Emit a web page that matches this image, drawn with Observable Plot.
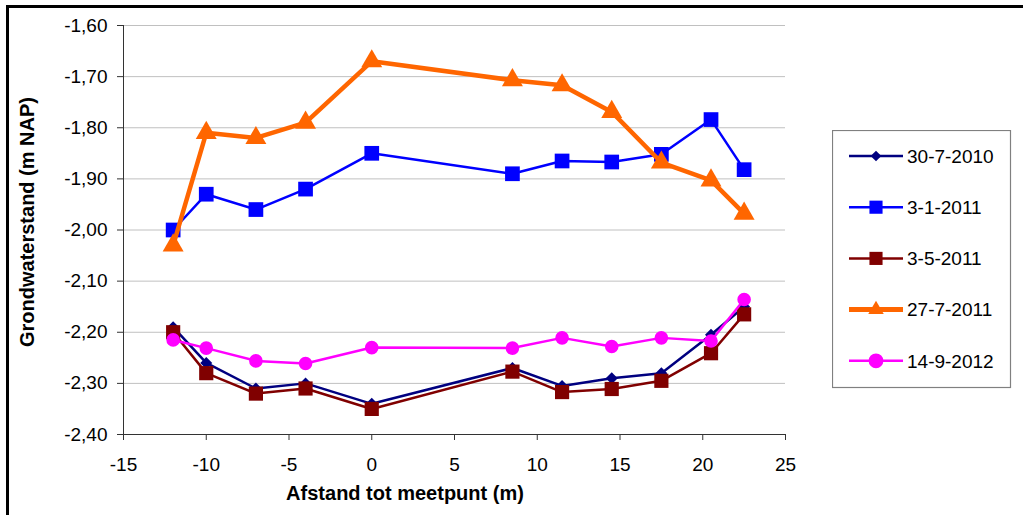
<!DOCTYPE html>
<html>
<head>
<meta charset="utf-8">
<script src="https://cdn.jsdelivr.net/npm/d3@7"></script>
<script src="https://cdn.jsdelivr.net/npm/@observablehq/plot@0.6"></script>
<style>
  body { margin: 0; background: #fff; }
  #chart { position: relative; width: 1023px; height: 515px; overflow: hidden;
           font-family: "Liberation Sans", Arial, sans-serif; }
  #chart > svg.plot { position: absolute; left: 0; top: 0; }
  .frame { position: absolute; left: 6px; top: 5px; width: 1100px; height: 600px;
           border-top: 3px solid #000; border-left: 3px solid #000; }
  .xtitle { position: absolute; left: 405px; top: 483px; transform: translateX(-50%);
            font: bold 20px/20px "Liberation Sans", Arial, sans-serif; white-space: nowrap; color: #000; }
  .ytitle { position: absolute; left: 27px; top: 222px; width: 320px; height: 20px;
            margin-left: -160px; margin-top: -10px; text-align: center; transform: rotate(-90deg);
            font: bold 20px/20px "Liberation Sans", Arial, sans-serif; white-space: nowrap; color: #000; }
  #legend { position: absolute; left: 832px; top: 130px; }
</style>
</head>
<body>
<div id="chart">
  <div class="frame"></div>
</div>
<script>
// Afstand tot meetpunt (m)
const afstand = [-12, -10, -7, -4, 0, 8.5, 11.5, 14.5, 17.5, 20.5, 22.5];

// Meetdata
const datums = ["30-7-2010", "3-1-2011", "3-5-2011", "27-7-2011", "14-9-2012"];
const stand_30_7_2010 = [-2.19, -2.26, -2.31, -2.30, -2.34, -2.27, -2.305, -2.29, -2.28, -2.205, -2.15];
const stand_3_1_2011  = [-2.00, -1.93, -1.96, -1.92, -1.85, -1.89, -1.865, -1.867, -1.852, -1.784, -1.882];
const stand_3_5_2011  = [-2.20, -2.28, -2.32, -2.31, -2.35, -2.277, -2.317, -2.311, -2.295, -2.241, -2.165];
const stand_27_7_2011 = [-2.03, -1.81, -1.82, -1.79, -1.67, -1.707, -1.717, -1.769, -1.868, -1.903, -1.968];
const stand_14_9_2012 = [-2.215, -2.231, -2.256, -2.261, -2.23, -2.231, -2.211, -2.228, -2.211, -2.217, -2.136];
const standen = [stand_30_7_2010, stand_3_1_2011, stand_3_5_2011, stand_27_7_2011, stand_14_9_2012];

// Astikken
const yTicks = [-1.6, -1.7, -1.8, -1.9, -2.0, -2.1, -2.2, -2.3, -2.4];
const xTicks = [-15, -10, -5, 0, 5, 10, 15, 20, 25];

// Opmaak per reeks
const stijl = {
  "30-7-2010": {color: "#000080", symbol: "diamond2", r: 5.4, width: 2.5},
  "3-1-2011":  {color: "#0000FF", symbol: "square",   r: 8.3, width: 2.5},
  "3-5-2011":  {color: "#800000", symbol: "square",   r: 8.0, width: 2.5},
  "27-7-2011": {color: "#FF6600", symbol: "triangle2", r: 10, width: 4.5},
  "14-9-2012": {color: "#FF00FF", symbol: "circle",   r: 6.8, width: 2.5}
};

const rows = datums.flatMap((d, i) => afstand.map((x, j) => ({datum: d, afstand: x, stand: standen[i][j]})));

const fmtY = d => d.toFixed(2).replace(".", ",");

const seriesMarks = datums.flatMap(d => {
  const s = stijl[d];
  const data = rows.filter(r => r.datum === d);
  return [
    Plot.line(data, {x: "afstand", y: "stand", stroke: s.color, strokeWidth: s.width, strokeLinejoin: "miter"}),
    Plot.dot(data, {x: "afstand", y: "stand", symbol: () => s.symbol, r: s.r, fill: s.color, stroke: "none"})
  ];
});

const chart = Plot.plot({
  width: 1023,
  height: 515,
  marginLeft: 123,
  marginRight: 238,
  marginTop: 25,
  marginBottom: 81,
  style: {fontFamily: "'Liberation Sans', Arial, sans-serif", fontSize: "19px", color: "#000", background: "transparent", overflow: "visible"},
  x: {domain: [-15, 25]},
  y: {domain: [-2.4, -1.6]},
  symbol: {type: "identity"},
  marks: [
    Plot.gridY(yTicks.slice(0, -1), {stroke: "#c0c0c0", strokeOpacity: 1, strokeWidth: 1}),
    Plot.axisY({ticks: yTicks, tickFormat: fmtY, tickSize: 6, tickPadding: 10, label: null, fontSize: 19, stroke: "#333"}),
    Plot.axisX({ticks: xTicks, tickFormat: d => String(d), tickSize: 6, tickPadding: 17, label: null, fontSize: 19, stroke: "#333"}),
    Plot.ruleX([-15], {stroke: "#333", strokeWidth: 1}),
    Plot.ruleY([-2.4], {stroke: "#333", strokeWidth: 1}),
    ...seriesMarks
  ]
});
chart.classList.add("plot");

const root = document.getElementById("chart");
root.appendChild(chart);

const xt = document.createElement("div");
xt.className = "xtitle";
xt.textContent = "Afstand tot meetpunt (m)";
root.appendChild(xt);

const yt = document.createElement("div");
yt.className = "ytitle";
yt.textContent = "Grondwaterstand (m NAP)";
root.appendChild(yt);

// Legenda
const symbolen = {diamond2: d3.symbolDiamond2, square: d3.symbolSquare, triangle2: d3.symbolTriangle2, circle: d3.symbolCircle};
const lgW = 178, lgH = 257;
const lg = d3.create("svg").attr("id", "legend").attr("width", lgW + 2).attr("height", lgH + 2);
lg.append("rect").attr("x", 0.5).attr("y", 0.5).attr("width", lgW).attr("height", lgH)
  .attr("fill", "#fff").attr("stroke", "#808080").attr("stroke-width", 1.2);
datums.forEach((d, i) => {
  const s = stijl[d];
  const cy = 26 + i * 51.2;
  const g = lg.append("g").attr("transform", `translate(0,${cy})`);
  g.append("line").attr("x1", 17).attr("x2", 71).attr("y1", 0).attr("y2", 0)
    .attr("stroke", s.color).attr("stroke-width", d === "27-7-2011" ? 5 : 2.5);
  const rr = d === "30-7-2010" ? 4.8 : 7.4;
  g.append("path").attr("transform", "translate(44,0)")
    .attr("d", d3.symbol(symbolen[s.symbol], rr * rr * Math.PI)())
    .attr("fill", s.color);
  g.append("text").attr("x", 75).attr("y", 0).attr("dy", "0.36em")
    .attr("font-family", "'Liberation Sans', Arial, sans-serif").attr("font-size", 19)
    .attr("fill", "#000").text(d);
});
root.appendChild(lg.node());
</script>
</body>
</html>
